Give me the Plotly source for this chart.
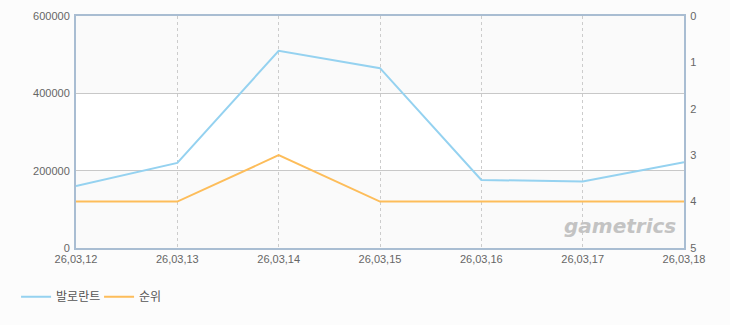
import plotly.graph_objects as go

dates = ["26,03,12", "26,03,13", "26,03,14", "26,03,15", "26,03,16", "26,03,17", "26,03,18"]
valorant = [160000, 220000, 510000, 465000, 176000, 172000, 222000]
rank = [4, 4, 3, 4, 4, 4, 4]
left_ticks = [0, 200000, 400000, 600000]
right_ticks = [0, 1, 2, 3, 4, 5]

xi = list(range(len(dates)))

fig = go.Figure()
fig.add_trace(go.Scatter(x=xi, y=valorant, name="발로란트", mode="lines",
                         line=dict(color="#95d2f0", width=2)))
fig.add_trace(go.Scatter(x=xi, y=rank, name="순위", mode="lines", yaxis="y2",
                         line=dict(color="#fdbd5a", width=2)))

# white middle band
fig.add_shape(type="rect", xref="x domain", yref="y", x0=0, x1=1, y0=200000, y1=400000,
              fillcolor="#ffffff", line_width=0, layer="below")

fig.add_annotation(text="<i><b>gametrics</b></i>", xref="paper", yref="paper",
                   x=0.99, y=0.035, xanchor="right", yanchor="bottom", showarrow=False,
                   font=dict(family="DejaVu Sans", size=20, color="#c3c3c3"))

font = dict(family="Liberation Sans, Noto Sans CJK KR", size=11, color="#666666")

fig.update_layout(
    width=730, height=325,
    margin=dict(l=76, r=46, t=16, b=77, autoexpand=False),
    paper_bgcolor="#fcfcfc", plot_bgcolor="#fafafa",
    font=font,
    showlegend=True,
    legend=dict(orientation="h", xref="container", yref="container", x=0.022, y=0.087,
                xanchor="left", yanchor="middle",
                font=dict(family="Noto Sans CJK KR", size=12, color="#555555"),
                bgcolor="rgba(0,0,0,0)", entrywidth=38, entrywidthmode="pixels"),
    xaxis=dict(range=[0, len(dates) - 1], tickmode="array", tickvals=xi, ticktext=dates,
               showgrid=True, gridcolor="#cccccc", griddash="3px,3px", gridwidth=1,
               showline=True, linecolor="#a9bdd2", linewidth=2, mirror=True,
               zeroline=False, ticks="", tickfont=font),
    yaxis=dict(range=[0, 600000], tickmode="array", tickvals=left_ticks,
               ticktext=[str(v) for v in left_ticks],
               showgrid=True, gridcolor="#c8c8c8", gridwidth=1, zeroline=False,
               showline=True, linecolor="#a9bdd2", linewidth=2, ticks="", tickfont=font,
               ticklabelstandoff=2),
    yaxis2=dict(range=[5, 0], overlaying="y", side="right", tickmode="array",
                tickvals=right_ticks, showgrid=False, zeroline=False,
                showline=True, linecolor="#a9bdd2", linewidth=2, ticks="", tickfont=font,
                ticklabelstandoff=2),
)

fig.write_html("out.html")
